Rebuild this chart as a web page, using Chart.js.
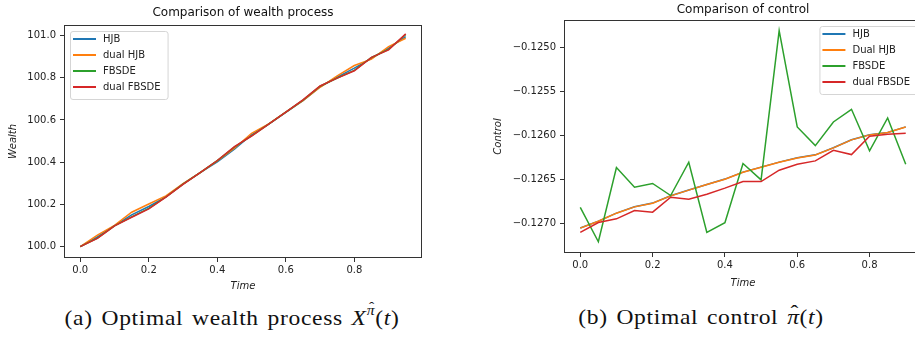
<!DOCTYPE html>
<html>
<head>
<meta charset="utf-8">
<script src="https://cdn.jsdelivr.net/npm/chart.js@4/dist/chart.umd.min.js"></script>
<style>
  html, body { margin: 0; padding: 0; background: #fff; }
  body { width: 915px; height: 338px; position: relative; overflow: hidden; }
  .panel { position: absolute; top: 0; }
  #wealthWrap { left: 0; width: 460px; height: 300px; }
  #controlWrap { left: 460px; width: 480px; height: 300px; }
  .caption {
    position: absolute; top: 305px; white-space: nowrap;
    font-family: "Liberation Serif", serif; font-size: 21px; color: #111;
    letter-spacing: 0.6px; word-spacing: 2px;
    transform: translateX(-50%) scaleX(1.12);
  }
  #capA { left: 232px; }
  #capB { left: 701px; }
  .caption sup { font-size: 14px; position: relative; top: -2px; }
  .hat { position: relative; display: inline-block; }
  .hat .mark { position: absolute; left: 0.12em; right: 0; text-align: center; top: -0.2em; font-style: normal; }
</style>
</head>
<body>
<div class="panel" id="wealthWrap"><canvas id="wealthChart" width="460" height="300"></canvas></div>
<div class="panel" id="controlWrap"><canvas id="controlChart" width="480" height="300"></canvas></div>
<div class="caption" id="capA">(a) Optimal wealth process <i>X</i><sup><span class="hat"><i>π</i><span class="mark">ˆ</span></span></sup>(<i>t</i>)</div>
<div class="caption" id="capB">(b) Optimal control <span class="hat"><i>π</i><span class="mark">ˆ</span></span>(<i>t</i>)</div>

<script>
// ===== Data =====
const seriesLabelsWealth = ['HJB', 'dual HJB', 'FBSDE', 'dual FBSDE'];
const seriesLabelsControl = ['HJB', 'Dual HJB', 'FBSDE', 'dual FBSDE'];
const seriesColors = ['#1f77b4', '#ff7f0e', '#2ca02c', '#d62728'];

const wealthTime = [0, 0.05, 0.1, 0.15, 0.2, 0.25, 0.3, 0.35, 0.4, 0.45, 0.5, 0.55, 0.6, 0.65, 0.7, 0.75, 0.8, 0.85, 0.9, 0.95];
const wealthHJB = [100.000, 100.046, 100.099, 100.150, 100.190, 100.236, 100.297, 100.350, 100.402, 100.462, 100.530, 100.580, 100.636, 100.692, 100.757, 100.803, 100.846, 100.892, 100.940, 100.995];
const wealthDualHJB = [100.000, 100.054, 100.101, 100.163, 100.202, 100.240, 100.299, 100.351, 100.406, 100.466, 100.537, 100.581, 100.637, 100.692, 100.755, 100.809, 100.858, 100.888, 100.948, 100.987];
const wealthFBSDE = [100.000, 100.040, 100.098, 100.141, 100.181, 100.235, 100.296, 100.351, 100.407, 100.472, 100.525, 100.580, 100.637, 100.694, 100.760, 100.799, 100.835, 100.896, 100.934, 101.005];
const wealthDualFBSDE = [100.000, 100.039, 100.098, 100.139, 100.179, 100.234, 100.295, 100.351, 100.408, 100.474, 100.524, 100.580, 100.637, 100.695, 100.761, 100.798, 100.833, 100.897, 100.932, 101.008];

const controlTime = [0, 0.05, 0.1, 0.15, 0.2, 0.25, 0.3, 0.35, 0.4, 0.45, 0.5, 0.55, 0.6, 0.65, 0.7, 0.75, 0.8, 0.85, 0.9];
const controlHJB = [-0.127052, -0.126973, -0.126882, -0.126810, -0.126768, -0.126685, -0.126620, -0.126556, -0.126495, -0.126416, -0.126359, -0.126302, -0.126253, -0.126219, -0.126139, -0.126048, -0.125991, -0.125965, -0.125901];
const controlDualHJB = [-0.127053, -0.126974, -0.126883, -0.126811, -0.126769, -0.126686, -0.126621, -0.126557, -0.126496, -0.126417, -0.126360, -0.126303, -0.126254, -0.126220, -0.126140, -0.126049, -0.125992, -0.125966, -0.125902];
const controlFBSDE = [-0.126818, -0.127208, -0.126364, -0.126587, -0.126545, -0.126682, -0.126303, -0.127102, -0.126992, -0.126318, -0.126504, -0.124807, -0.125902, -0.126114, -0.125845, -0.125701, -0.126174, -0.125799, -0.126326];
const controlDualFBSDE = [-0.127102, -0.126989, -0.126947, -0.126852, -0.126871, -0.126701, -0.126723, -0.126667, -0.126598, -0.126523, -0.126523, -0.126394, -0.126326, -0.126288, -0.126167, -0.126216, -0.126008, -0.125985, -0.125973];

const wealthXTicks = [0, 0.2, 0.4, 0.6, 0.8];
const wealthYTicks = [100.0, 100.2, 100.4, 100.6, 100.8, 101.0];
const controlXTicks = [0, 0.2, 0.4, 0.6, 0.8];
const controlYTicks = [-0.1270, -0.1265, -0.1260, -0.1255, -0.1250];

// ===== Defaults =====
Chart.defaults.font.family = '"DejaVu Sans", sans-serif';
Chart.defaults.font.size = 10;
Chart.defaults.color = '#222';
Chart.defaults.animation = false;

// ===== Plugins =====
// axes frame on all four sides, like matplotlib spines
const framePlugin = {
  id: 'frame',
  afterDatasetsDraw(chart) {
    const a = chart.chartArea;
    const ctx = chart.ctx;
    ctx.save();
    ctx.strokeStyle = '#333';
    ctx.lineWidth = 1;
    ctx.strokeRect(Math.round(a.left) + 0.5, Math.round(a.top) + 0.5,
      Math.round(a.right - a.left) - 1, Math.round(a.bottom - a.top) - 1);
    ctx.restore();
  }
};

// legend drawn inside the plot area
const insideLegend = {
  id: 'insideLegend',
  afterDraw(chart, args, opts) {
    const ctx = chart.ctx;
    const a = chart.chartArea;
    const sets = chart.data.datasets;
    ctx.save();
    ctx.font = '10px "DejaVu Sans", sans-serif';
    const textW = Math.max(...sets.map(d => ctx.measureText(d.label).width));
    const w = textW + 40;
    const h = sets.length * 16 + 4;
    const x = opts.corner === 'right' ? a.right - 5 - w : a.left + 6;
    const y = a.top + 6;

    ctx.fillStyle = 'rgba(255,255,255,0.85)';
    ctx.strokeStyle = '#d5d5d5';
    ctx.lineWidth = 1;
    ctx.beginPath();
    ctx.roundRect(x + 0.5, y + 0.5, w, h, 2.5);
    ctx.fill();
    ctx.stroke();

    ctx.textBaseline = 'middle';
    ctx.textAlign = 'left';
    sets.forEach((d, i) => {
      const ly = y + 8 + i * 16;
      ctx.strokeStyle = d.borderColor;
      ctx.lineWidth = 2;
      ctx.beginPath();
      ctx.moveTo(x + 3, ly);
      ctx.lineTo(x + 26, ly);
      ctx.stroke();
      ctx.fillStyle = '#222';
      ctx.fillText(d.label, x + 33, ly);
    });
    ctx.restore();
  }
};

// ===== Helpers =====
function buildDatasets(labels, times, seriesList) {
  return seriesList.map((values, i) => ({
    label: labels[i],
    data: times.map((t, j) => ({ x: t, y: values[j] })),
    borderColor: seriesColors[i],
    backgroundColor: seriesColors[i],
    borderWidth: 1.5,
    pointRadius: 0,
    tension: 0,
    // first dataset drawn first, last one ends on top
    order: seriesList.length - i
  }));
}

function axisGrid() {
  return { drawOnChartArea: false, tickColor: '#333', tickLength: 4, tickWidth: 1 };
}

function makeChart(id, cfg) {
  return new Chart(document.getElementById(id), {
    type: 'line',
    data: { datasets: buildDatasets(cfg.labels, cfg.times, cfg.series) },
    options: {
      responsive: false,
      layout: { padding: cfg.padding },
      plugins: {
        legend: { display: false },
        tooltip: { enabled: false },
        title: {
          display: true,
          text: cfg.title,
          fullSize: false,
          font: { size: 12, weight: 'normal' },
          color: '#111',
          padding: cfg.titlePadding
        },
        insideLegend: { corner: cfg.legendCorner }
      },
      scales: {
        x: {
          type: 'linear',
          min: cfg.xMin,
          max: cfg.xMax,
          grid: axisGrid(),
          border: { display: false },
          afterBuildTicks: s => { s.ticks = cfg.xTicks.map(v => ({ value: v })); },
          afterFit: s => { s.height = cfg.xAxisHeight; },
          ticks: { autoSkip: false, maxRotation: 0, padding: 2, callback: v => v.toFixed(1) },
          title: { display: true, text: 'Time', font: { style: 'italic', size: 10 }, padding: { top: 2, bottom: 4 } }
        },
        y: {
          type: 'linear',
          min: cfg.yMin,
          max: cfg.yMax,
          grid: axisGrid(),
          border: { display: false },
          afterBuildTicks: s => { s.ticks = cfg.yTicks.map(v => ({ value: v })); },
          afterFit: s => { s.width = cfg.yAxisWidth; },
          ticks: { autoSkip: false, padding: 4, callback: cfg.yFormat },
          title: { display: true, text: cfg.yTitle, font: { style: 'italic', size: 10 }, padding: { top: cfg.yTitlePad, bottom: 0 } }
        }
      }
    },
    plugins: [framePlugin, insideLegend]
  });
}

// ===== Charts =====
const wealthChart = makeChart('wealthChart', {
  labels: seriesLabelsWealth,
  times: wealthTime,
  series: [wealthHJB, wealthDualHJB, wealthFBSDE, wealthDualFBSDE],
  title: 'Comparison of wealth process',
  titlePadding: { top: 6, bottom: 4.6 },
  padding: { left: 0, right: 38, top: 0, bottom: 4 },
  xMin: -0.0475, xMax: 0.9975,
  yMin: 99.946, yMax: 101.05,
  xTicks: wealthXTicks,
  yTicks: wealthYTicks,
  xAxisHeight: 38,
  yAxisWidth: 64,
  yTitle: 'Wealth',
  yTitlePad: 7,
  yFormat: v => v.toFixed(1),
  legendCorner: 'left'
});

const controlChart = makeChart('controlChart', {
  labels: seriesLabelsControl,
  times: controlTime,
  series: [controlHJB, controlDualHJB, controlFBSDE, controlDualFBSDE],
  title: 'Comparison of control',
  titlePadding: { top: 3, bottom: 2.6 },
  padding: { left: 0, right: 18, top: 0, bottom: 7 },
  xMin: -0.045, xMax: 0.945,
  yMin: -0.127336, yMax: -0.124685,
  xTicks: controlXTicks,
  yTicks: controlYTicks,
  xAxisHeight: 40,
  yAxisWidth: 104,
  yTitle: 'Control',
  yTitlePad: 32,
  yFormat: v => (v < 0 ? '\u2212' : '') + Math.abs(v).toFixed(4),
  legendCorner: 'right'
});
</script>
</body>
</html>
